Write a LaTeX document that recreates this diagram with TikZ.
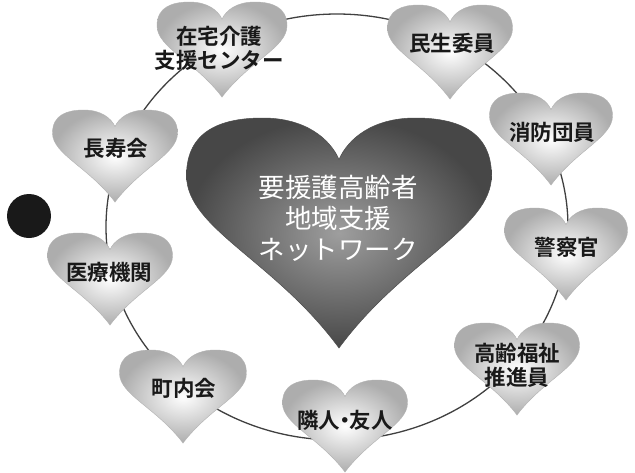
\documentclass[tikz,border=0pt]{standalone}
\usepackage{fontspec}
\newfontfamily\jp{Noto Sans CJK JP}[BoldFont={Noto Sans CJK JP Bold}]
\tikzset{
  smallheart/.style={draw=gray!60, line width=0.4pt, shading=radial, inner color=white, outer color=black!32},
  bigheart/.style={draw=black!70, line width=0.5pt, shading=radial, inner color=black!38, outer color=black!72},
  smalltext/.style={font=\jp\bfseries\fontsize{21.5}{24}\selectfont, align=center, text=black!90, inner sep=0pt},
  bigtext/.style={font=\jp\fontsize{26.5}{31}\selectfont, align=center, text=white, inner sep=0pt},
  ring/.style={draw=black!75, line width=1.3pt}
}
% #1 cx, #2 top y, #3 width, #4 height, #5 style
\newcommand\myheart[5]{%
  \begin{scope}[shift={(#1,#2)}, xscale=#3/2, yscale=#4]
    \path[#5] (0,1) .. controls (-0.42,0.62) and (-1,0.48) .. (-1,0.25)
      .. controls (-1,0.05) and (-0.76,0) .. (-0.5,0)
      .. controls (-0.22,0) and (-0.06,0.09) .. (0,0.18)
      .. controls (0.06,0.09) and (0.22,0) .. (0.5,0)
      .. controls (0.76,0) and (1,0.05) .. (1,0.25)
      .. controls (1,0.48) and (0.42,0.62) .. (0,1) -- cycle;
  \end{scope}}
\begin{document}
\begin{tikzpicture}[x=1pt,y=-1pt]
\useasboundingbox (0,0) rectangle (635,472);
\fill[white] (0,0) rectangle (635,472);
\draw[ring] (337,227) ellipse [x radius=231pt, y radius=213pt];
\fill[black!90] (29,216) circle [radius=22pt];
\myheart{339}{118}{305}{230}{bigheart}
\myheart{222}{2}{130}{95}{smallheart}
\myheart{450}{5}{125}{94}{smallheart}
\myheart{551}{93}{123}{92}{smallheart}
\myheart{566}{208}{123}{92}{smallheart}
\myheart{517}{323}{125}{92}{smallheart}
\myheart{345}{380}{125}{92}{smallheart}
\myheart{183}{350}{127}{93}{smallheart}
\myheart{110}{233}{125}{92}{smallheart}
\myheart{115}{110}{125}{92}{smallheart}
\node[bigtext] (center) at (338,218) {要援護高齢者\\地域支援\\ネットワーク};
\node[smalltext] (zaitaku) at (219,48) {在宅介護\\支援センター};
\node[smalltext] (minsei) at (452,43) {民生委員};
\node[smalltext] (shobo) at (552,132) {消防団員};
\node[smalltext] (keisatsu) at (567,247) {警察官};
\node[smalltext] (koreifukushi) at (517,365) {高齢福祉\\推進員};
\node[smalltext] (rinjin) at (345,420) {隣人\kern-0.28em・\kern-0.28em友人};
\node[smalltext] (chonai) at (184,388) {町内会};
\node[smalltext] (iryo) at (109,272) {医療機関};
\node[smalltext] (chojukai) at (116,148) {長寿会};
\end{tikzpicture}
\end{document}
